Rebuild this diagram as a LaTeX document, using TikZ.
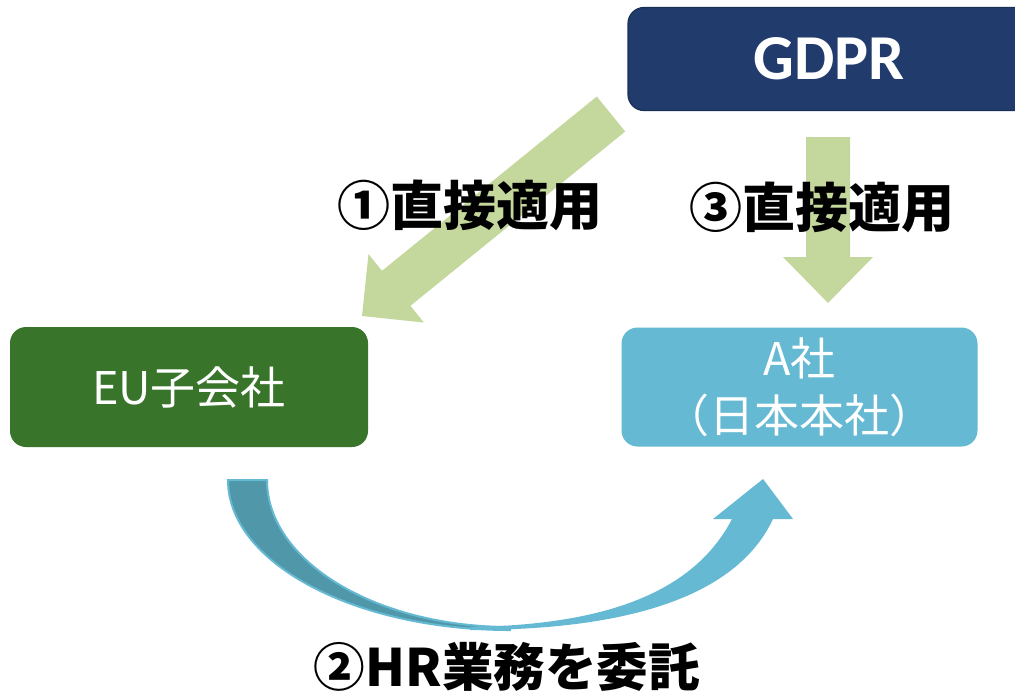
\documentclass[tikz,border=0pt]{standalone}
\usepackage{fontspec}
\newfontfamily\jpfont{Noto Sans CJK JP}
\newfontfamily\gdprfont{Carlito}
\definecolor{gdprblue}{HTML}{213B6C}
\definecolor{eugreen}{HTML}{38752B}
\definecolor{abblue}{HTML}{66B9D3}
\definecolor{lgreen}{HTML}{C4D79C}
\definecolor{darkteal}{HTML}{4F97A9}
\tikzset{
  box/.style={rounded corners=8pt, inner sep=0pt, align=center, text=white},
  lbl/.style={inner sep=0pt, font=\jpfont\bfseries\fontsize{26.5}{30}\selectfont, text=black},
  boxtext/.style={font=\jpfont\fontsize{22.5}{28.5}\selectfont}
}
\begin{document}
\begin{tikzpicture}[x=0.5pt,y=-0.5pt]
\useasboundingbox (0,0) rectangle (1015,692);
\clip (0,0) rectangle (1015,692);
% boxes
\node[box, fill=gdprblue, draw=gdprblue!80!black, line width=0.6pt, minimum width=201pt, minimum height=51.5pt,
      font=\gdprfont\bfseries\fontsize{32}{36}\selectfont] (gdpr) at (829,59) {GDPR};
\node[box, boxtext, fill=eugreen, minimum width=179pt, minimum height=60pt] (eu) at (189,387) {EU子会社};
\node[box, boxtext, fill=abblue, minimum width=178pt, minimum height=59.5pt] (a) at (799.5,387) {A社\\（日本本社）};
% green arrow 1 (GDPR -> EU)
\coordinate (t1a) at (596.8,96.5);
\coordinate (t1b) at (625.2,131.5);
\coordinate (tip1) at (362,316);
\fill[lgreen] (t1a) -- (382.0,270.8) -- (368.5,254.1) -- (tip1) -- (423.9,322.5) -- (410.4,305.8) -- (t1b) -- cycle;
% green arrow 3 (GDPR -> A)
\coordinate (tip3) at (828,303);
\fill[lgreen] (806,137) -- (806,257) -- (783,257) -- (tip3) -- (873,257) -- (850,257) -- (850,137) -- cycle;
% curved arrow (EU -> A)
\fill[darkteal, draw=abblue, line width=1pt]
  (228,480) .. controls (228,562.8) and (354.3,630) .. (510,630)
  -- (510,627) .. controls (375.8,627) and (267,561.2) .. (267,480) -- cycle;
\coordinate (tip2) at (763,479);
\fill[abblue]
  (470,627) .. controls (590,625) and (690,600) .. (732,519)
  -- (713,519) -- (tip2) -- (793,519) -- (773,519)
  .. controls (735,600) and (620,630) .. (470,630) -- cycle;
% labels
\node[lbl] (l1) at (470,205) {①直接適用};
\node[lbl] (l3) at (822,207) {③直接適用};
\node[lbl, font=\jpfont\bfseries\fontsize{25.8}{30}\selectfont] (l2) at (507,667) {②HR業務を委託};
\end{tikzpicture}
\end{document}
